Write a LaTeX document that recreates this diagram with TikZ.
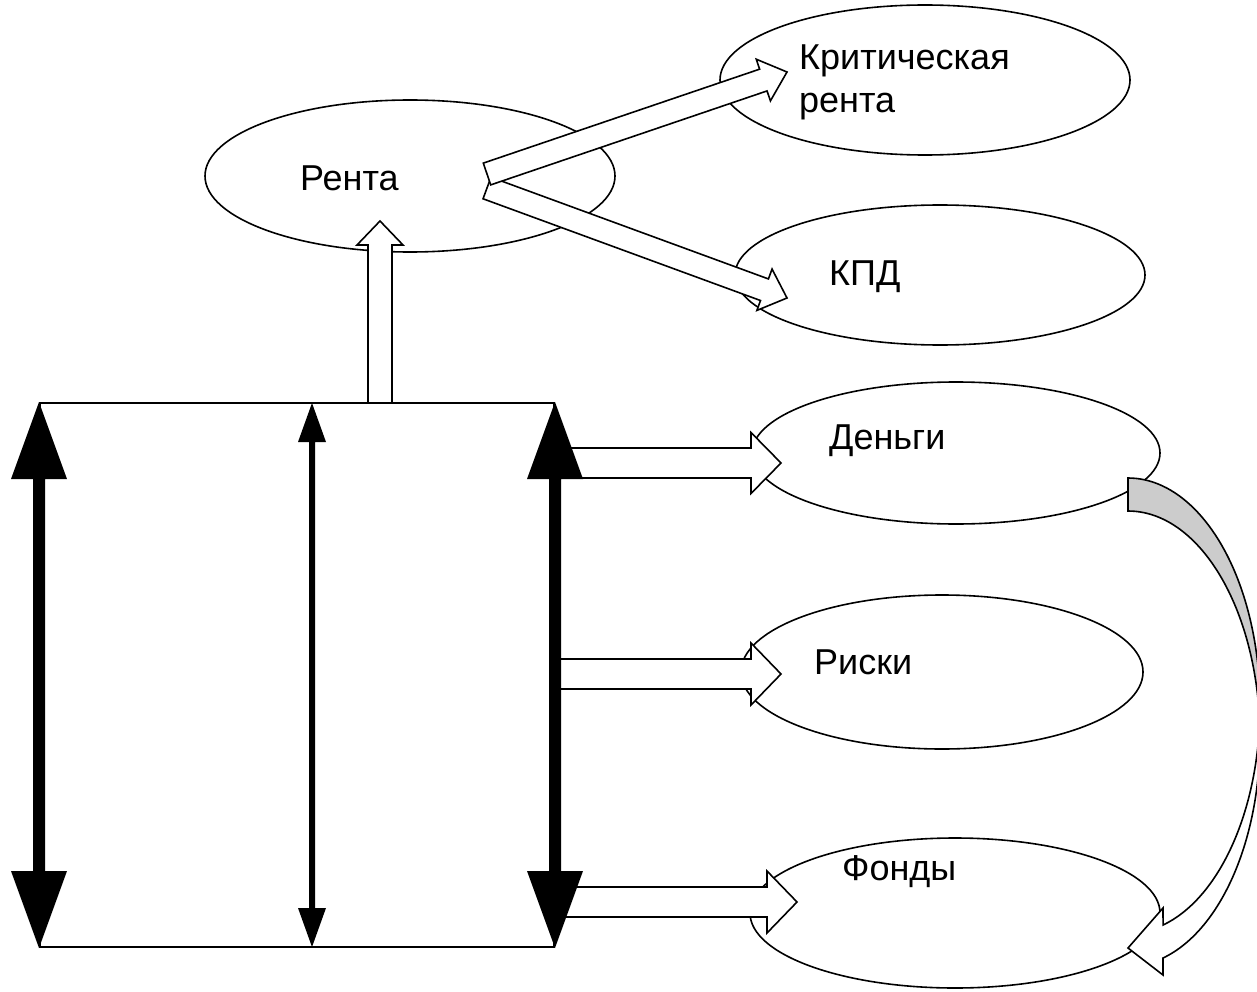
\documentclass[tikz,border=0pt]{standalone}
\usepackage{fontspec}
\setmainfont{Liberation Sans}
\usetikzlibrary{shapes.geometric,calc}
\tikzset{
  oval/.style={ellipse,draw,line width=1.6pt,inner sep=0pt,fill=white},
  lbl/.style={anchor=base west,inner sep=0pt,font=\fontsize{36}{42}\selectfont},
  harrowstyle/.style={draw,fill=white,line width=1.6pt,line join=miter},
}
% hollow block arrow: from, to, shaft half width, head half width, head length
\newcommand\harrow[5]{%
  \path ($(#2)!#5!(#1)$) coordinate (hb);
  \filldraw[harrowstyle] ($(#1)!#3!-90:(#2)$) -- ($(hb)!#3!-90:(#2)$) -- ($(hb)!#4!-90:(#2)$) -- (#2)
    -- ($(hb)!#4!90:(#2)$) -- ($(hb)!#3!90:(#2)$) -- ($(#1)!#3!90:(#2)$) -- cycle;}
% solid double arrow: from, to, shaft half width, head half width, head length
\newcommand\sdarrow[5]{%
  \path ($(#1)!#5!(#2)$) coordinate (ha) ($(#2)!#5!(#1)$) coordinate (hz);
  \fill (#1) -- ($(ha)!#4!90:(#2)$) -- ($(ha)!#3!90:(#2)$) -- ($(hz)!#3!90:(#2)$) -- ($(hz)!#4!90:(#2)$) -- (#2)
    -- ($(hz)!#4!-90:(#2)$) -- ($(hz)!#3!-90:(#2)$) -- ($(ha)!#3!-90:(#2)$) -- ($(ha)!#4!-90:(#2)$) -- cycle;}
\begin{document}
\begin{tikzpicture}[x=1pt,y=-1pt]
\useasboundingbox[fill=white] (0,0) rectangle (1257,992);
% ellipses
\node[oval,minimum width=410pt,minimum height=152pt] (renta) at (410,176) {};
\node[oval,minimum width=410pt,minimum height=150pt] (krit) at (925,80) {};
\node[oval,minimum width=410pt,minimum height=140pt] (kpd) at (940,275) {};
\node[oval,minimum width=408pt,minimum height=142pt] (dengi) at (956,453) {};
\node[oval,minimum width=402pt,minimum height=154pt] (riski) at (942,672) {};
\node[oval,minimum width=410pt,minimum height=150pt] (fondy) at (955,913) {};
% rectangle
\node[draw,line width=2pt,minimum width=514pt,minimum height=544pt,inner sep=0pt] (box) at (297,675) {};
% connector end points
\coordinate (upS) at (380,403);
\coordinate (upE) at (380,221);
\coordinate (d1S) at (487,174);
\coordinate (d1E) at (787,72);
\coordinate (d2S) at (487,188);
\coordinate (d2E) at (787,298);
\coordinate (h1S) at (554,463);
\coordinate (h1E) at (781,463);
\coordinate (h2S) at (554,674);
\coordinate (h2E) at (781,674);
\coordinate (h3S) at (554,902);
\coordinate (h3E) at (797,902);
% hollow arrows
\harrow{upS}{upE}{12pt}{23pt}{24pt}
\harrow{d2S}{d2E}{11.5pt}{22pt}{24pt}
\harrow{d1S}{d1E}{11.5pt}{22pt}{25pt}
\harrow{h1S}{h1E}{15pt}{30.5pt}{30pt}
\harrow{h2S}{h2E}{15pt}{31pt}{30pt}
\harrow{h3S}{h3E}{15pt}{31pt}{30pt}
% solid double arrows
\coordinate (mT) at (312,403);
\coordinate (mB) at (312,947);
\sdarrow{box.north west}{box.south west}{6pt}{28pt}{77pt}
\sdarrow{mT}{mB}{3pt}{14pt}{39pt}
\sdarrow{box.north east}{box.south east}{6pt}{28pt}{77pt}
% curved arrow from Деньги to Фонды
\filldraw[line width=1.6pt,fill=black!20,line join=miter] (1128,478)
  arc[start angle=-90,end angle=4.16,x radius=132,y radius=227.6]
  arc[start angle=-4.16,end angle=-90,x radius=132,y radius=227.6] -- cycle;
\filldraw[line width=1.6pt,fill=white,line join=miter] (1259.65,722.1)
  arc[start angle=4.16,end angle=74.6,x radius=132,y radius=227.6]
  -- (1163,908) -- (1128,948) -- (1163,975) -- (1163,958)
  arc[start angle=74.6,end angle=-4.16,x radius=132,y radius=227.6] -- cycle;
% labels
\node[lbl] (tRenta) at (300,191) {Рента};
\node[lbl] (tKrit1) at (799,70) {Критическая};
\node[lbl] (tKrit2) at (799,113) {рента};
\node[lbl] (tKpd) at (829,285) {КПД};
\node[lbl] (tDengi) at (829,449) {Деньги};
\node[lbl] (tRiski) at (814,674) {Риски};
\node[lbl] (tFondy) at (842,880) {Фонды};
\end{tikzpicture}
\end{document}
